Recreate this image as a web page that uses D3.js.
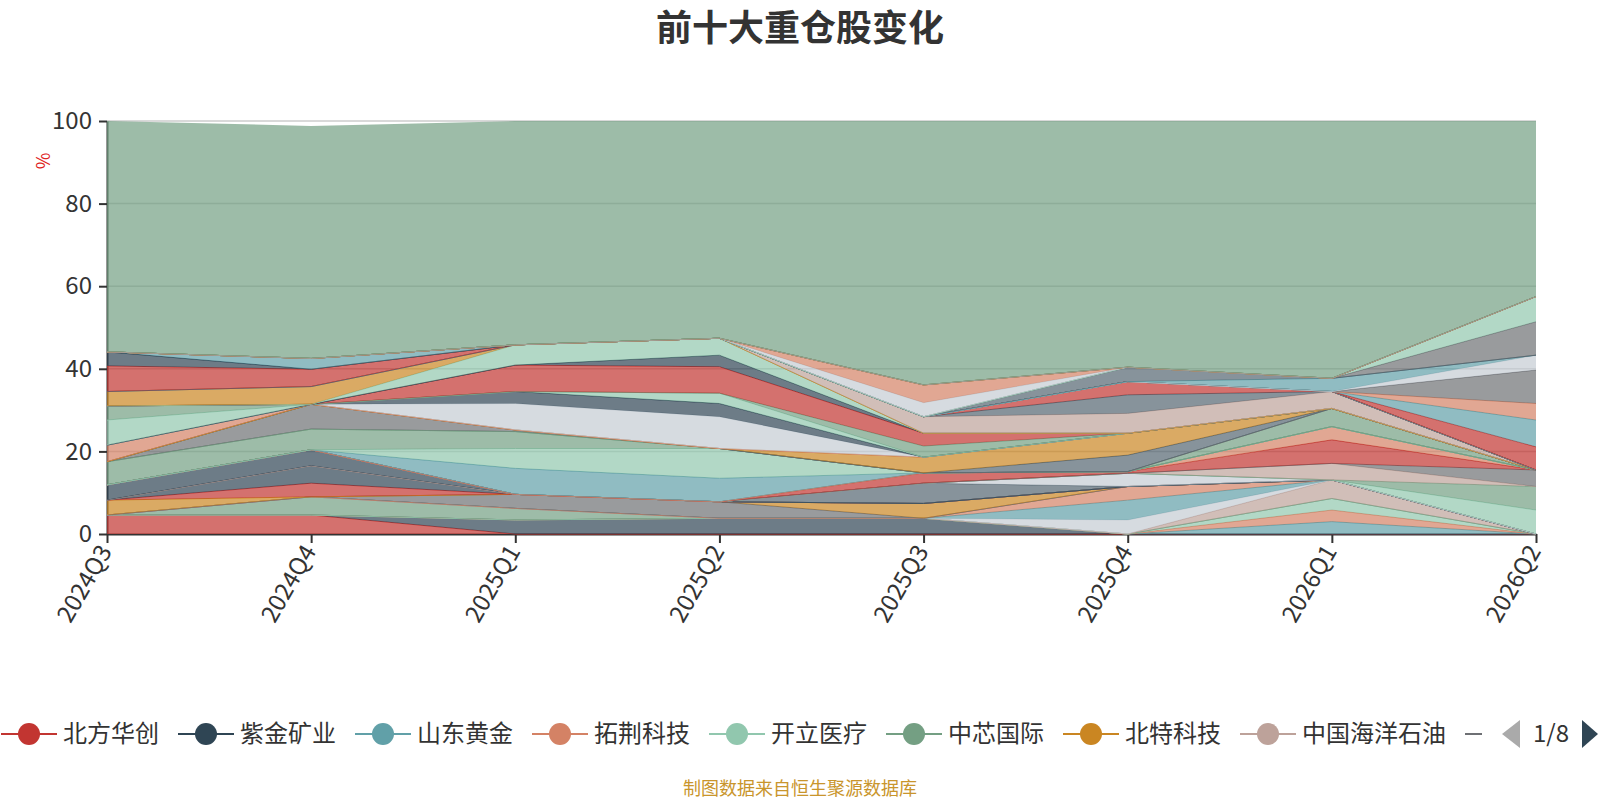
<!DOCTYPE html>
<html>
<head>
<meta charset="utf-8">
<title>前十大重仓股变化</title>
<script src="https://cdn.jsdelivr.net/npm/d3@7/dist/d3.min.js"></script>
<style>
  body { margin: 0; background: #fff; }
  svg text { font-family: "Noto Sans CJK SC", "Noto Sans", sans-serif; }
</style>
</head>
<body>
<svg id="chart"></svg>
<script>
const quarters = ["2024Q3", "2024Q4", "2025Q1", "2025Q2", "2025Q3", "2025Q4", "2026Q1", "2026Q2"];

// legend order (the colour of a stock follows its place in this list)
const stocks = ["北方华创", "紫金矿业", "山东黄金", "拓荆科技", "开立医疗", "中芯国际", "北特科技", "中国海洋石油",
  "中微公司", "华海清科", "寒武纪", "中际旭创", "赤峰黄金", "海光信息", "新易盛", "澜起科技", "兆易创新",
  "中科飞测", "中国石油", "洛阳钼业", "芯源微", "沪硅产业", "山金国际", "中金黄金", "银泰黄金", "长川科技",
  "湖南黄金", "西部矿业", "恒瑞医药", "华虹公司", "迈瑞医疗", "盛美上海", "江西铜业", "铜陵有色", "北方稀土",
  "联影医疗", "澳华内镜", "南微医学", "精测电子", "安集科技", "鼎龙股份", "工业富联", "华大九天", "立讯精密",
  "药明康德", "中国神华", "宁德时代", "胜宏科技", "中国黄金", "雅克科技", "三花智控", "拓普集团", "小米集团",
  "腾讯控股", "中船特气", "沪电股份", "紫光国微", "芯联集成", "中科曙光", "阿里巴巴", "其他"];

// weight in the fund (%) per quarter, same order as stocks
const weights = [
  [4.6, 4.6, 0, 0, 0, 0, 0, 0],       // 北方华创
  [0, 0, 3.4, 3.8, 3.8, 0, 0, 0],     // 紫金矿业
  [0, 0, 0, 0, 0, 0, 3.0, 0],         // 山东黄金
  [0, 0, 0, 0, 0, 0, 2.8, 0],         // 拓荆科技
  [0, 0, 0, 0, 0, 0, 2.8, 0],         // 开立医疗
  [0, 4.4, 2.8, 0, 0, 0, 0, 0],       // 中芯国际
  [3.6, 0, 0, 0, 3.6, 0, 0, 0],       // 北特科技
  [0, 0, 0, 0, 0, 0, 4.5, 0],         // 中国海洋石油
  [0, 0, 3.4, 4.0, 0, 0, 0, 0],       // 中微公司
  [0, 0, 0, 0, 4.9, 0, 0, 0],         // 华海清科
  [0, 0, 0, 0, 0, 3.4, 0, 0],         // 寒武纪
  [0, 0, 0, 0, 2.5, 0.4, 5.7, 0],     // 中际旭创
  [0, 4.2, 0, 0, 0, 0, 0, 0],         // 赤峰黄金
  [0, 0, 0, 0, 0, 4.8, 0, 0],         // 海光信息
  [0, 0, 0, 0, 0, 3.3, 0, 0],         // 新易盛
  [0, 0, 0, 0, 0, 0, 0, 5.8],         // 澜起科技
  [0, 0, 0, 0, 0, 0, 0, 5.7],         // 兆易创新
  [0, 0, 0, 0, 3.8, 5.3, 0, 0],       // 中科飞测
  [0, 0, 0, 0, 0, 0, 4.0, 0],         // 中国石油
  [0, 0, 0, 0, 0, 0, 0, 4.0],         // 洛阳钼业
  [0, 0, 0, 0, 0, 4.0, 0, 0],         // 芯源微
  [0, 0, 0, 0, 0, 3.2, 0, 0],         // 沪硅产业
  [0, 3.3, 0, 0, 0, 0, 0, 0],         // 山金国际
  [3.7, 3.9, 0, 0, 0, 0, 0, 0],       // 中金黄金
  [0, 0, 6.3, 5.7, 0, 0, 0, 0],       // 银泰黄金
  [0, 0, 0, 0, 0, 0, 3.2, 0],         // 长川科技
  [0, 0, 4.8, 7.2, 0, 0, 0, 0],       // 湖南黄金
  [5.6, 5.0, 4.1, 0, 0, 0, 0, 0],     // 西部矿业
  [3.5, 4.3, 0, 0, 0, 0, 0, 0],       // 恒瑞医药
  [0, 0, 0, 0, 4.0, 4.8, 4.1, 0],     // 华虹公司
  [0, 6.0, 0.4, 0, 0, 0, 0, 0],       // 迈瑞医疗
  [0, 0, 0, 0, 0, 4.5, 0, 0],         // 盛美上海
  [0, 0, 6.4, 7.7, 0, 0, 0, 0],       // 江西铜业
  [0, 0, 6.4, 6.4, 3.1, 0, 0, 0],     // 铜陵有色
  [0, 0, 2.9, 3.2, 0, 0, 0, 0],       // 北方稀土
  [0, 2.6, 0, 0, 0, 0, 0, 0],         // 联影医疗
  [4.0, 0, 0, 0, 0, 0, 0, 0],         // 澳华内镜
  [6.1, 0, 0, 2.5, 0, 0, 0, 0],       // 南微医学
  [3.4, 0, 0, 0, 2.7, 0, 0, 0],       // 精测电子
  [0, 0, 0, 0, 0, 0, 0, 0],           // 安集科技
  [0, 0, 0, 0, 0, 0, 0, 0],           // 鼎龙股份
  [0, 0, 0, 0, 0, 0, 0, 8.1],         // 工业富联
  [0, 0, 0, 0, 0, 3.5, 0, 0],         // 华大九天
  [0, 0, 0, 0, 0, 0, 0, 3.6],         // 立讯精密
  [6.2, 4.2, 0, 0, 0, 3.2, 0, 0],     // 药明康德
  [0, 0, 0, 2.8, 0, 0, 0, 0],         // 中国神华
  [0, 0, 0, 0, 0, 0, 0, 6.5],         // 宁德时代
  [0, 0, 0, 0, 0, 0, 0, 4.0],         // 胜宏科技
  [0, 0, 4.9, 4.1, 0, 0, 0, 0],       // 中国黄金
  [0, 0, 0, 0, 0, 0, 4.4, 0],         // 雅克科技
  [0, 0, 0, 0, 0, 0, 0, 0],           // 三花智控
  [0, 0, 0, 0, 0, 0, 0, 0],           // 拓普集团
  [0, 0, 0, 0, 0, 0, 0, 8.1],         // 小米集团
  [0, 0, 0, 0, 0, 0, 0, 0],           // 腾讯控股
  [0, 0, 0, 0, 3.4, 0, 0, 0],         // 中船特气
  [0, 0, 0, 0, 0, 0, 0, 5.6],         // 沪电股份
  [3.4, 0, 0, 0, 0, 0, 0, 0],         // 紫光国微
  [0, 0, 0, 0, 0, 0, 3.2, 0],         // 芯联集成
  [0, 0, 0, 0, 4.3, 0, 0, 0],         // 中科曙光
  [0, 0, 0, 0, 0, 0, 0, 6.1],         // 阿里巴巴
  [55.9, 56.3, 54.2, 52.6, 63.9, 59.6, 62.3, 42.5]  // 其他
];

// stacking order, bottom to top
const stackOrder = ["北方华创", "紫金矿业", "山东黄金", "拓荆科技", "开立医疗", "中芯国际", "中国海洋石油",
  "寒武纪", "海光信息", "新易盛", "中微公司", "北特科技", "山金国际", "赤峰黄金", "鼎龙股份", "中金黄金",
  "华海清科", "沪硅产业", "澜起科技", "兆易创新", "中国石油", "洛阳钼业", "中际旭创", "长川科技", "银泰黄金",
  "湖南黄金", "西部矿业", "雅克科技", "迈瑞医疗", "芯源微", "中科飞测", "澳华内镜", "江西铜业", "北方稀土",
  "南微医学", "精测电子", "铜陵有色", "中国神华", "中国黄金", "恒瑞医药", "华虹公司", "盛美上海", "药明康德",
  "紫光国微", "联影医疗", "沪电股份", "宁德时代", "胜宏科技", "工业富联", "立讯精密", "芯联集成", "华大九天",
  "小米集团", "阿里巴巴", "中船特气", "中科曙光", "安集科技", "三花智控", "腾讯控股", "拓普集团", "其他"];

const yTicks = [0, 20, 40, 60, 80, 100];

const palette = ["#c23531", "#2f4554", "#61a0a8", "#d48265", "#91c7ae", "#749f83",
  "#ca8622", "#bda29a", "#6e7074", "#546570", "#c4ccd3"];

const svgWidth = 1600;
const svgHeight = 800;
const svg = d3.select("#chart")
    .attr("width", svgWidth)
    .attr("height", svgHeight);

const margin = {top: 121, right: 64, bottom: 266, left: 107};
const width = svgWidth - margin.left - margin.right;
const height = svgHeight - margin.top - margin.bottom;

const x = d3.scalePoint().domain(quarters).range([0, width]);
const y = d3.scaleLinear().domain([0, 100]).range([height, 0]);
const color = d3.scaleOrdinal().domain(stocks).range(palette);

// title
svg.append("text")
    .attr("x", svgWidth / 2)
    .attr("y", 41)
    .attr("text-anchor", "middle")
    .attr("font-size", 36)
    .attr("font-weight", "bold")
    .attr("fill", "#333")
    .text("前十大重仓股变化");

const g = svg.append("g")
    .attr("transform", "translate(" + margin.left + "," + margin.top + ")");

// split lines (under the areas)
g.append("g")
    .selectAll("line")
    .data(yTicks.slice(1))
    .join("line")
    .attr("x1", 0)
    .attr("x2", width)
    .attr("y1", d => y(d))
    .attr("y2", d => y(d))
    .attr("stroke", "#ccc")
    .attr("stroke-width", 1.5);

// y axis
const yAxis = g.append("g")
    .attr("font-family", null)
    .call(d3.axisLeft(y).tickValues(yTicks).tickSize(8).tickSizeOuter(0).tickPadding(7));
yAxis.select(".domain").attr("stroke", "#333").attr("stroke-width", 2);
yAxis.selectAll(".tick line").attr("stroke", "#333").attr("stroke-width", 2);
yAxis.selectAll(".tick text").attr("font-size", 24).attr("fill", "#333");

yAxis.append("text")
    .attr("transform", "translate(-63,40) rotate(-90)")
    .attr("text-anchor", "middle")
    .attr("dy", "0.35em")
    .attr("font-size", 18)
    .attr("fill", "#e01f1f")
    .text("%");

// x axis
const xAxis = g.append("g")
    .attr("font-family", null)
    .attr("transform", "translate(0," + height + ")")
    .call(d3.axisBottom(x).tickSize(9).tickSizeOuter(0));
xAxis.select(".domain").attr("stroke", "#333").attr("stroke-width", 2);
xAxis.selectAll(".tick line").attr("stroke", "#333").attr("stroke-width", 2);
xAxis.selectAll(".tick text")
    .attr("font-size", 24)
    .attr("fill", "#333")
    .attr("x", 0)
    .attr("y", 0)
    .attr("dy", "0.35em")
    .attr("text-anchor", "end")
    .attr("transform", "translate(-2,13) rotate(-60)");

// stacked areas
const rows = quarters.map((q, i) => {
    const row = {quarter: q};
    stocks.forEach((name, k) => { row[name] = weights[k][i]; });
    return row;
});
const layers = d3.stack().keys(stackOrder)(rows);

const area = d3.area()
    .x(d => x(d.data.quarter))
    .y0(d => y(d[0]))
    .y1(d => y(d[1]));
const line = d3.line()
    .x(d => x(d.data.quarter))
    .y(d => y(d[1]));

const topKey = stackOrder[stackOrder.length - 1];
const layer = g.append("g")
    .selectAll("g")
    .data(layers)
    .join("g");

layer.append("path")
    .attr("d", area)
    .attr("fill", d => color(d.key))
    .attr("fill-opacity", 0.7);

layer.filter(d => d.key !== topKey)
    .append("path")
    .attr("d", line)
    .attr("fill", "none")
    .attr("stroke", d => color(d.key))
    .attr("stroke-width", 1);

// legend (scrolling, first page shown)
const legendY = 734;
const viewWidth = 1482;
const iconWidth = 56;
const textGap = 6;
const itemGap = 19;

svg.append("clipPath")
    .attr("id", "legend-clip")
    .append("rect")
    .attr("x", 0)
    .attr("y", legendY - 30)
    .attr("width", viewWidth)
    .attr("height", 60);

const legend = svg.append("g").attr("clip-path", "url(#legend-clip)");
const items = [];
let cx = 1;
stocks.forEach(name => {
    const item = legend.append("g").attr("transform", "translate(" + cx + "," + legendY + ")");
    item.append("line")
        .attr("x1", 0)
        .attr("x2", iconWidth)
        .attr("stroke", color(name))
        .attr("stroke-width", 2);
    item.append("circle")
        .attr("cx", iconWidth / 2)
        .attr("r", 11)
        .attr("fill", color(name));
    const label = item.append("text")
        .attr("x", iconWidth + textGap)
        .attr("dy", "0.35em")
        .attr("font-size", 24)
        .attr("fill", "#333")
        .text(name);
    const w = iconWidth + textGap + label.node().getComputedTextLength();
    items.push({x: cx, w: w, node: item, label: label});
    cx += w + itemGap;
});

let pages = 1;
let pageStart = items[0].x;
items.forEach(it => {
    if (it.x + it.w - pageStart > viewWidth) {
        pages++;
        pageStart = it.x;
    }
});

// only keep what the first page actually shows
items.forEach(it => {
    if (it.x >= viewWidth) it.node.remove();
    else if (it.x + iconWidth + textGap >= viewWidth) it.label.remove();
    else if (it.x + iconWidth / 2 - 11 >= viewWidth) it.node.select("circle").remove();
});

// pager
svg.append("path")
    .attr("d", "M1520,720 L1520,748 L1502,734 Z")
    .attr("fill", "#aaa");
svg.append("text")
    .attr("x", 1551)
    .attr("y", legendY)
    .attr("dy", "0.35em")
    .attr("text-anchor", "middle")
    .attr("font-size", 24)
    .attr("fill", "#333")
    .text("1/" + pages);
svg.append("path")
    .attr("d", "M1582,720 L1582,748 L1598,734 Z")
    .attr("fill", "#2f4554");

// source note
svg.append("text")
    .attr("x", svgWidth / 2)
    .attr("y", 789)
    .attr("dy", "0.35em")
    .attr("text-anchor", "middle")
    .attr("font-size", 18)
    .attr("fill", "#c9952c")
    .text("制图数据来自恒生聚源数据库");
</script>
</body>
</html>
